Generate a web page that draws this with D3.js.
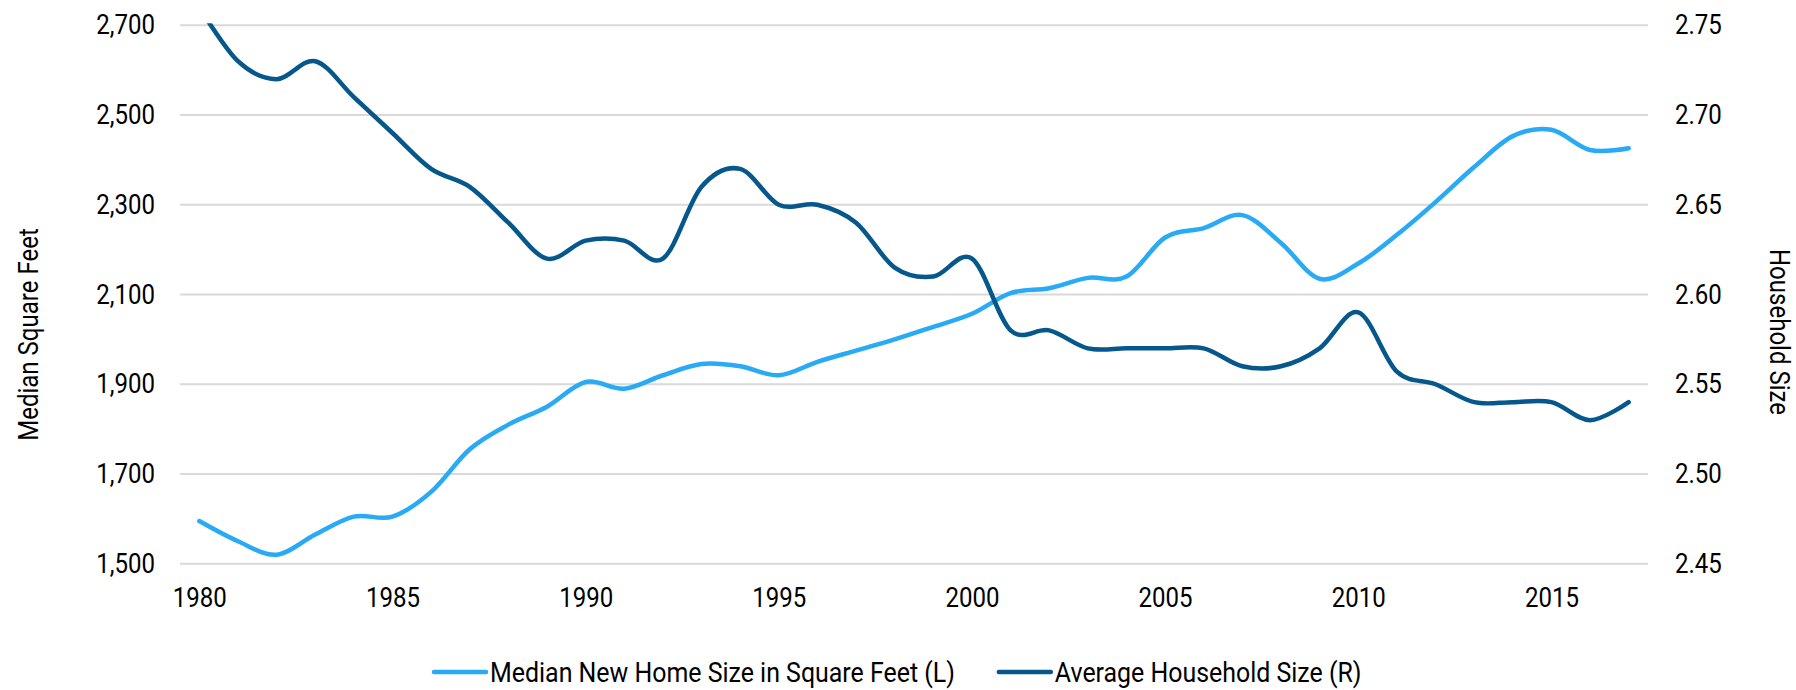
<!DOCTYPE html>
<html>
<head>
    <meta charset="utf-8">
    <style>
        body { margin: 0; background: #fff; }
        text { font-family: Roboto, "Liberation Sans", sans-serif; fill: #000; }
    </style>
    <script src="https://d3js.org/d3.v7.min.js"></script>
</head>
<body>
    <div id="chart"></div>

    <script>
        // Data
        const years = [1980, 1981, 1982, 1983, 1984, 1985, 1986, 1987, 1988, 1989,
                       1990, 1991, 1992, 1993, 1994, 1995, 1996, 1997, 1998, 1999,
                       2000, 2001, 2002, 2003, 2004, 2005, 2006, 2007, 2008, 2009,
                       2010, 2011, 2012, 2013, 2014, 2015, 2016, 2017];
        const homeSize = [1595, 1550, 1520, 1565, 1605, 1605, 1660, 1755, 1810, 1850,
                          1905, 1890, 1920, 1945, 1940, 1920, 1950, 1975, 2000, 2028,
                          2057, 2103, 2114, 2137, 2140, 2227, 2248, 2277, 2215, 2135,
                          2169, 2233, 2306, 2384, 2453, 2467, 2422, 2426];
        const householdSize = [2.76, 2.73, 2.72, 2.73, 2.71, 2.69, 2.67, 2.66, 2.64, 2.62,
                               2.63, 2.63, 2.62, 2.66, 2.67, 2.65, 2.65, 2.64, 2.615, 2.61,
                               2.62, 2.58, 2.58, 2.57, 2.57, 2.57, 2.57, 2.56, 2.56, 2.57,
                               2.59, 2.557, 2.55, 2.54, 2.54, 2.54, 2.53, 2.54];
        const xTicks = [1980, 1985, 1990, 1995, 2000, 2005, 2010, 2015];
        const leftTicks = [1500, 1700, 1900, 2100, 2300, 2500, 2700];
        const rightTicks = [2.45, 2.50, 2.55, 2.60, 2.65, 2.70, 2.75];
        const seriesNames = ["Median New Home Size in Square Feet (L)", "Average Household Size (R)"];

        const lightBlue = "#29aaf4";
        const darkBlue = "#06578b";
        const squeeze = 0.89;   // fake a condensed face from Roboto
        const fontSize = 27;

        const W = 1796, H = 690;
        const plot = { left: 180, right: 1648, top: 25.3, bottom: 563.7 };

        const svg = d3.select("#chart").append("svg")
            .attr("width", W)
            .attr("height", H);

        const x = d3.scalePoint()
            .domain(years)
            .range([plot.left, plot.right])
            .padding(0.5);

        const yL = d3.scaleLinear()
            .domain([1500, 2700])
            .range([plot.bottom, plot.top]);

        const yR = d3.scaleLinear()
            .domain([2.45, 2.75])
            .range([plot.bottom, plot.top]);

        // gridlines
        svg.append("g")
            .selectAll("line")
            .data(leftTicks)
            .join("line")
            .attr("x1", plot.left)
            .attr("x2", plot.right)
            .attr("y1", d => yL(d))
            .attr("y2", d => yL(d))
            .attr("stroke", "#d9d9d9")
            .attr("stroke-width", 2);

        // axes
        const leftAxis = svg.append("g")
            .attr("transform", `translate(${plot.left},0)`)
            .call(d3.axisLeft(yL).tickValues(leftTicks).tickSize(0).tickPadding(25).tickFormat(d3.format(",")));

        const rightAxis = svg.append("g")
            .attr("transform", `translate(${plot.right},0)`)
            .call(d3.axisRight(yR).tickValues(rightTicks).tickSize(0).tickPadding(27).tickFormat(d3.format(".2f")));

        const bottomAxis = svg.append("g")
            .attr("transform", `translate(0,${plot.bottom})`)
            .call(d3.axisBottom(x).tickValues(xTicks).tickSize(0).tickPadding(24));

        [leftAxis, rightAxis, bottomAxis].forEach(g => {
            g.select(".domain").remove();
            g.selectAll("text")
                .attr("font-size", fontSize)
                .attr("font-family", null)
                .attr("x", function () { return +d3.select(this).attr("x") / squeeze; })
                .attr("transform", `scale(${squeeze},1)`);
        });
        svg.selectAll(".tick text").attr("fill", "#000");

        // axis titles
        svg.append("text")
            .attr("transform", `translate(38,${(plot.top + plot.bottom) / 2 + 40}) rotate(-90) scale(${squeeze},1)`)
            .attr("text-anchor", "middle")
            .attr("font-size", fontSize)
            .text("Median Square Feet");

        svg.append("text")
            .attr("transform", `translate(1770,332) rotate(90) scale(${squeeze},1)`)
            .attr("text-anchor", "middle")
            .attr("font-size", fontSize)
            .text("Household Size");

        // lines
        svg.append("clipPath")
            .attr("id", "plot-clip")
            .append("rect")
            .attr("x", plot.left - 20)
            .attr("y", plot.top - 2)
            .attr("width", plot.right - plot.left + 40)
            .attr("height", plot.bottom - plot.top + 20);

        const lineL = d3.line()
            .x((d, i) => x(years[i]))
            .y(d => yL(d))
            .curve(d3.curveCardinal);

        const lineR = d3.line()
            .x((d, i) => x(years[i]))
            .y(d => yR(d))
            .curve(d3.curveCardinal);

        svg.append("path")
            .datum(homeSize)
            .attr("d", lineL)
            .attr("fill", "none")
            .attr("stroke", lightBlue)
            .attr("stroke-width", 4.5)
            .attr("stroke-linecap", "round")
            .attr("clip-path", "url(#plot-clip)");

        svg.append("path")
            .datum(householdSize)
            .attr("d", lineR)
            .attr("fill", "none")
            .attr("stroke", darkBlue)
            .attr("stroke-width", 4.5)
            .attr("stroke-linecap", "round")
            .attr("clip-path", "url(#plot-clip)");

        // legend
        const legend = svg.append("g").attr("transform", "translate(434,0)");
        const colors = [lightBlue, darkBlue];
        const swatch = 52, swGap = 4, itemGap = 44, legendY = 672;
        let cursor = 0;
        seriesNames.forEach((name, i) => {
            const item = legend.append("g").attr("transform", `translate(${cursor},0)`);
            item.append("line")
                .attr("x1", 0).attr("x2", swatch)
                .attr("y1", legendY).attr("y2", legendY)
                .attr("stroke", colors[i])
                .attr("stroke-width", 4.5)
                .attr("stroke-linecap", "round");
            const t = item.append("text")
                .attr("transform", `translate(${swatch + swGap},${legendY + 10}) scale(${squeeze},1)`)
                .attr("font-size", 28)
                .text(name);
            const w = t.node().getComputedTextLength() * squeeze;
            cursor += swatch + swGap + w + itemGap;
        });
    </script>
</body>
</html>
